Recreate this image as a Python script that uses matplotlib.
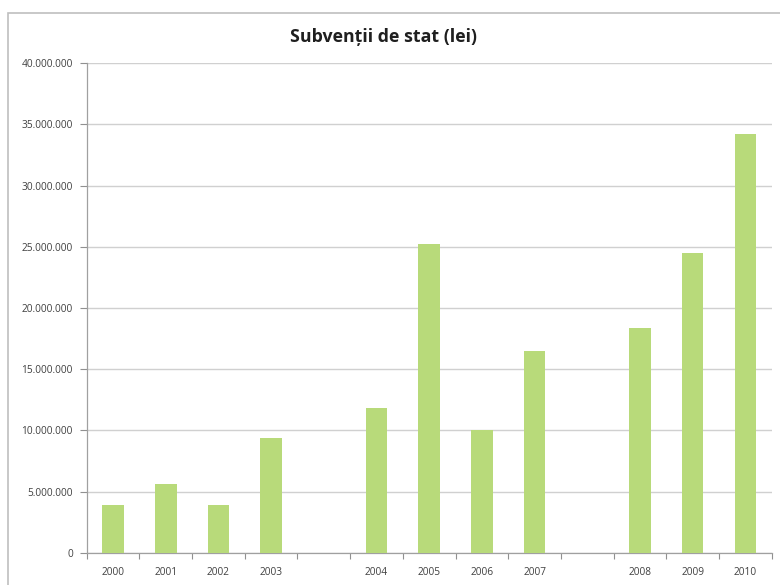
import matplotlib
matplotlib.use("Agg")
import matplotlib.pyplot as plt
import numpy as np
from matplotlib.patches import Rectangle
from matplotlib.ticker import FuncFormatter, FixedLocator

plt.rcParams['font.family'] = ['Open Sans', 'DejaVu Sans']

# categories (blank slots are empty categories in the original)
categories = ['2000', '2001', '2002', '2003', '', '2004', '2005', '2006', '2007', '', '2008', '2009', '2010']
values = [3.9e6, 5.6e6, 3.9e6, 9.4e6, np.nan, 11.8e6, 25.2e6, 10.0e6, 16.5e6, np.nan, 18.4e6, 24.5e6, 34.2e6]
y_ticks = [0, 5e6, 10e6, 15e6, 20e6, 25e6, 30e6, 35e6, 40e6]
title = 'Subvenții de stat (lei)'

fig = plt.figure(figsize=(7.8, 5.85), dpi=100)
# outer chart frame
fig.patches.append(Rectangle((8/780, -0.05), 1.1, (585-13)/585 + 0.05, transform=fig.transFigure,
                             fill=False, edgecolor='#BFBFBF', linewidth=1.2, zorder=0))

ax = fig.add_axes([86.7/780, (585-552.7)/585, (771.7-86.7)/780, (552.7-63.3)/585])
x = np.arange(len(categories))
vals = np.array(values, dtype=float)
mask = ~np.isnan(vals)
ax.bar(x[mask], vals[mask], width=0.41, color='#B8DA7A', zorder=3)

ax.set_xlim(-0.5, len(categories) - 0.5)
ax.set_ylim(0, 40e6)
ax.yaxis.set_major_locator(FixedLocator(y_ticks))
ax.yaxis.set_major_formatter(FuncFormatter(lambda v, p: f"{int(v):,}".replace(',', '.')))
ax.grid(axis='y', color='#D0D0D0', linewidth=1.0, zorder=0)
ax.set_axisbelow(True)

ax.set_xticks(x)
ax.set_xticklabels(categories)
ax.xaxis.set_minor_locator(FixedLocator(np.arange(-0.5, len(categories), 1.0)))
ax.tick_params(axis='x', which='major', length=0, labelsize=7.3, labelcolor='#404040', pad=10)
ax.tick_params(axis='x', which='minor', length=4, color='#909090', width=0.8, direction='out')
ax.tick_params(axis='y', which='major', length=5, color='#909090', width=0.8, labelsize=7.3,
               labelcolor='#404040', pad=5)

for s in ['top', 'right']:
    ax.spines[s].set_visible(False)
for s in ['left', 'bottom']:
    ax.spines[s].set_color('#A0A0A0')
    ax.spines[s].set_linewidth(0.9)

fig.text(384/780, 1 - 37/585, title, ha='center', va='center', fontsize=12.8,
         fontweight='bold', color='#1F1F1F')

fig.savefig('out.png', dpi=100)
